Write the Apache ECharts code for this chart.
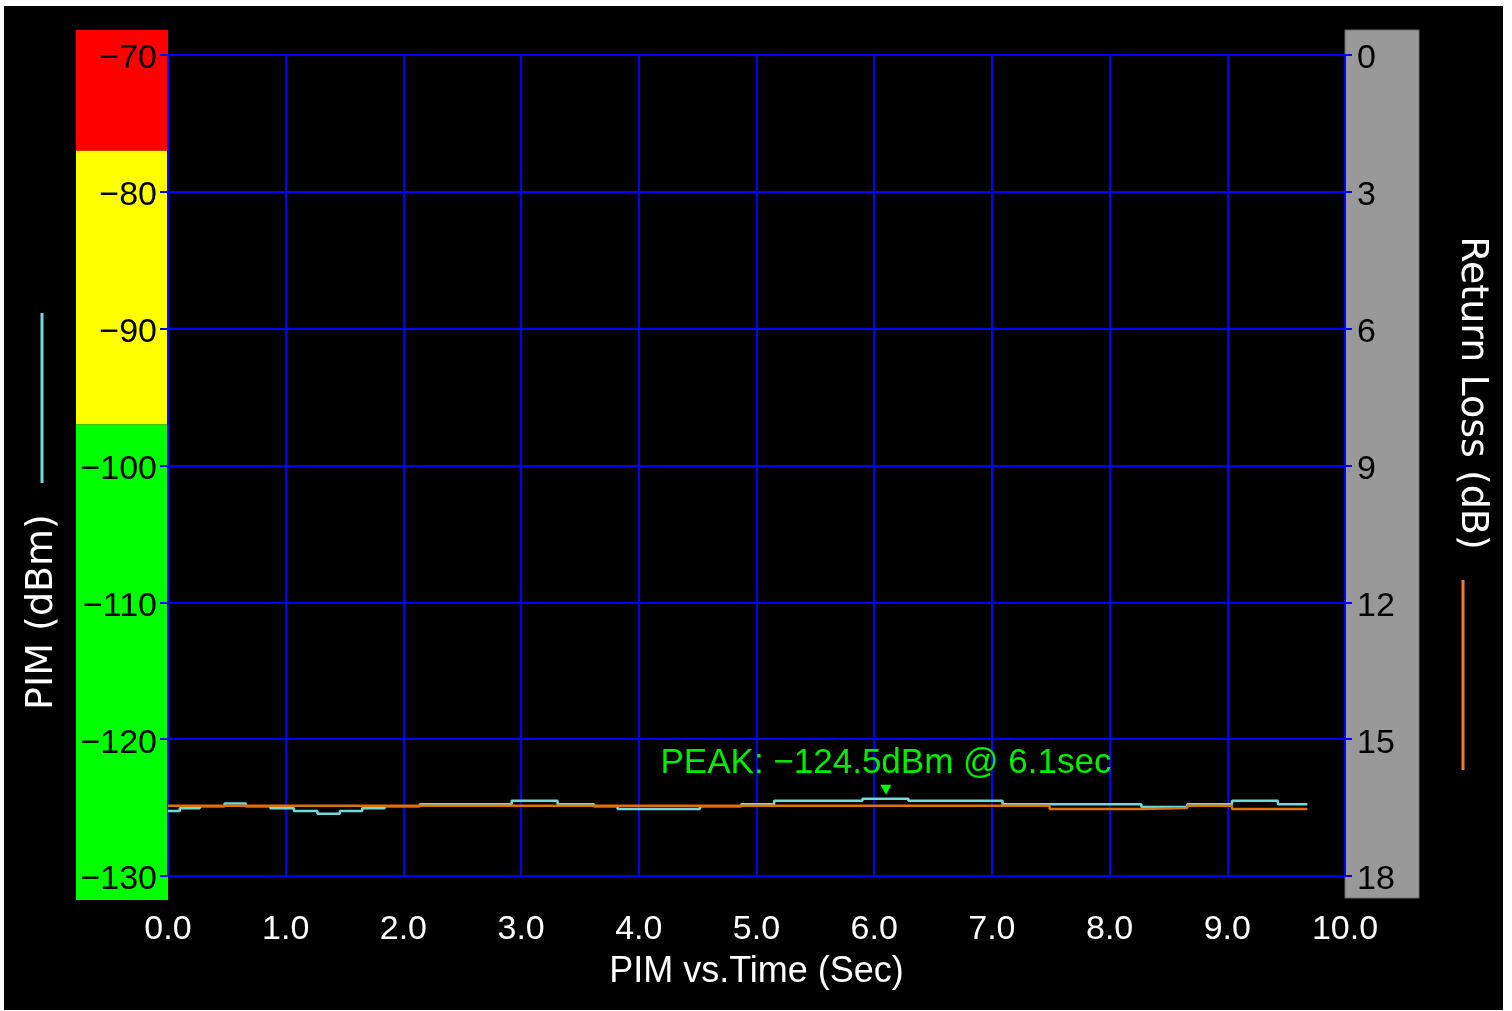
<!DOCTYPE html>
<html>
<head>
<meta charset="utf-8">
<script src="https://cdn.jsdelivr.net/npm/echarts@6/dist/echarts.min.js"></script>
<style>
  html, body { margin: 0; padding: 0; background: #ffffff; }
  #bg { position: absolute; left: 4px; top: 6px; width: 1499px; height: 1004px; background: #000000; }
  #main { position: absolute; left: 0; top: 0; width: 1512px; height: 1011px; }
</style>
</head>
<body>
<div id="bg"></div>
<div id="main"></div>
<script>
// ---- data ----
const pimTimes  = [0, 0.1, 0.27, 0.48, 0.66, 0.87, 1.07, 1.27, 1.46, 1.65, 1.84, 2.14, 2.92, 3.31, 3.62, 3.82, 4.52, 4.87, 5.15, 5.9, 6.29, 7.09, 8.27, 8.66, 9.04, 9.43, 9.68];
const pimValues = [-125.25, -125.05, -124.9, -124.7, -124.9, -125.05, -125.25, -125.45, -125.25, -125.05, -124.9, -124.75, -124.5, -124.75, -124.9, -125.1, -124.9, -124.75, -124.5, -124.35, -124.5, -124.75, -124.95, -124.75, -124.5, -124.75, -124.75];
const rlTimes   = [0, 7.49, 8.27, 8.66, 9.04, 9.68];
const rlValues  = [16.46, 16.53, 16.51, 16.46, 16.53, 16.53];
const xTicks    = [0, 1, 2, 3, 4, 5, 6, 7, 8, 9, 10];
const pimTicks  = [-130, -120, -110, -100, -90, -80, -70];
const rlTicks   = [0, 3, 6, 9, 12, 15, 18];
const pimBands  = [-77, -97];          // red/yellow and yellow/green limits
const peakTime  = 6.1;
const peakValue = -124.5;
const xName = 'PIM vs.Time (Sec)';
const pimName = 'PIM (dBm)';
const rlName = 'Return Loss (dB)';

const BLUE = '#0000ff';
const NUMFONT = 'Liberation Sans';
const minus = s => String(s).replace('-', '\u2212');

const chart = echarts.init(document.getElementById('main'), null, { renderer: 'canvas' });

const pimData = pimTimes.map((t, i) => [t, pimValues[i]]);
const rlData = rlTimes.map((t, i) => [t, rlValues[i]]);
const peakIdx = pimValues.indexOf(Math.max.apply(null, pimValues));

const option = {
  animation: false,
  backgroundColor: 'transparent',
  grid: { left: 168, top: 55, width: 1177, height: 821, containLabel: false },
  xAxis: {
    type: 'value', min: xTicks[0], max: xTicks[xTicks.length - 1], interval: 1,
    name: xName, nameLocation: 'middle', nameGap: 78,
    nameTextStyle: { color: '#ffffff', fontSize: 36, fontFamily: NUMFONT },
    axisLine: { show: true, lineStyle: { color: BLUE, width: 2 } },
    axisTick: { show: true, length: 8, lineStyle: { color: BLUE, width: 2 } },
    axisLabel: { color: '#ffffff', fontSize: 34, fontFamily: NUMFONT, margin: 37,
      formatter: v => v.toFixed(1) },
    splitLine: { show: true, lineStyle: { color: BLUE, width: 2 } },
    z: 1
  },
  yAxis: [
    {
      type: 'value', min: pimTicks[0], max: pimTicks[pimTicks.length - 1], interval: 10,
      position: 'left',
      axisLine: { show: true, lineStyle: { color: BLUE, width: 2 } },
      axisTick: { show: true, length: 8, lineStyle: { color: BLUE, width: 2 } },
      axisLabel: { color: '#000000', fontSize: 34, fontFamily: NUMFONT, margin: 11,
        formatter: v => '{n|' + minus(v) + '}',
        rich: { n: { color: '#000000', fontSize: 34, fontFamily: NUMFONT, padding: [8, 0, 0, 0] } } },
      splitLine: { show: true, lineStyle: { color: BLUE, width: 2 } },
      z: 1
    },
    {
      type: 'value', min: rlTicks[0], max: rlTicks[rlTicks.length - 1], interval: 3,
      inverse: true, position: 'right',
      axisLine: { show: true, lineStyle: { color: BLUE, width: 2 } },
      axisTick: { show: true, length: 7, lineStyle: { color: BLUE, width: 2 } },
      axisLabel: { color: '#000000', fontSize: 34, fontFamily: NUMFONT, margin: 12,
        formatter: v => '{n|' + v + '}',
        rich: { n: { color: '#000000', fontSize: 34, fontFamily: NUMFONT, padding: [8, 0, 0, 0] } } },
      splitLine: { show: false },
      z: 1
    }
  ],
  series: [
    {
      name: pimName, type: 'line', step: 'end', xAxisIndex: 0, yAxisIndex: 0,
      data: pimData, showSymbol: false, symbol: 'none',
      lineStyle: { color: '#6fdada', width: 2.5 },
      z: 3,
      markPoint: {
        symbol: 'triangle', symbolRotate: 180, symbolSize: [11, 10], symbolOffset: [0, -9],
        itemStyle: { color: '#00ff00' },
        data: [{
          coord: [peakTime, pimValues[peakIdx]],
          label: {
            show: true, position: 'top', distance: 4,
            formatter: 'PEAK: ' + minus(peakValue.toFixed(1)) + 'dBm @ ' + peakTime.toFixed(1) + 'sec',
            color: '#00ee00', fontSize: 35, fontFamily: NUMFONT
          }
        }]
      }
    },
    {
      name: rlName, type: 'line', step: 'end', xAxisIndex: 0, yAxisIndex: 1,
      data: rlData, showSymbol: false, symbol: 'none',
      lineStyle: { color: '#e0700a', width: 2.5 },
      z: 4
    }
  ]
};

chart.setOption(option);

// decorative bands and names placed from the axis scales
const px = v => chart.convertToPixel({ xAxisIndex: 0 }, v);
const py = v => chart.convertToPixel({ yAxisIndex: 0 }, v);
const x0 = px(xTicks[0]), x1 = px(xTicks[xTicks.length - 1]);
const yTop = py(pimTicks[pimTicks.length - 1]) - 25;
const yBot = py(pimTicks[0]) + 24;
const yRed = py(pimBands[0]), yYel = py(pimBands[1]);
const bandL = x0 - 92;

chart.setOption({
  graphic: [
    { type: 'rect', z: -5, shape: { x: bandL, y: yTop, width: x0 - bandL, height: yRed - yTop }, style: { fill: '#ff0000' } },
    { type: 'rect', z: -5, shape: { x: bandL, y: yRed, width: x0 - bandL, height: yYel - yRed }, style: { fill: '#ffff00' } },
    { type: 'rect', z: -5, shape: { x: bandL, y: yYel, width: x0 - bandL, height: yBot - yYel }, style: { fill: '#00ff00' } },
    { type: 'rect', z: -5, shape: { x: x1, y: yTop, width: 74, height: yBot - 2 - yTop }, style: { fill: '#999999', stroke: '#6a6a6a', lineWidth: 1 } },
    { type: 'line', z: 5, shape: { x1: 42, y1: 313, x2: 42, y2: 483 }, style: { stroke: '#6fdada', lineWidth: 3 } },
    { type: 'line', z: 5, shape: { x1: 1463, y1: 580, x2: 1463, y2: 770 }, style: { stroke: '#f07a30', lineWidth: 3 } },
    { type: 'text', z: 5, x: 42, y: 612, rotation: Math.PI / 2,
      style: { text: pimName, fill: '#ffffff', font: '38px "DejaVu Sans"', align: 'center', verticalAlign: 'middle' } },
    { type: 'text', z: 5, x: 1472, y: 393, rotation: -Math.PI / 2,
      style: { text: rlName, fill: '#ffffff', font: '38px "DejaVu Sans"', align: 'center', verticalAlign: 'middle' } }
  ]
});
</script>
</body>
</html>
